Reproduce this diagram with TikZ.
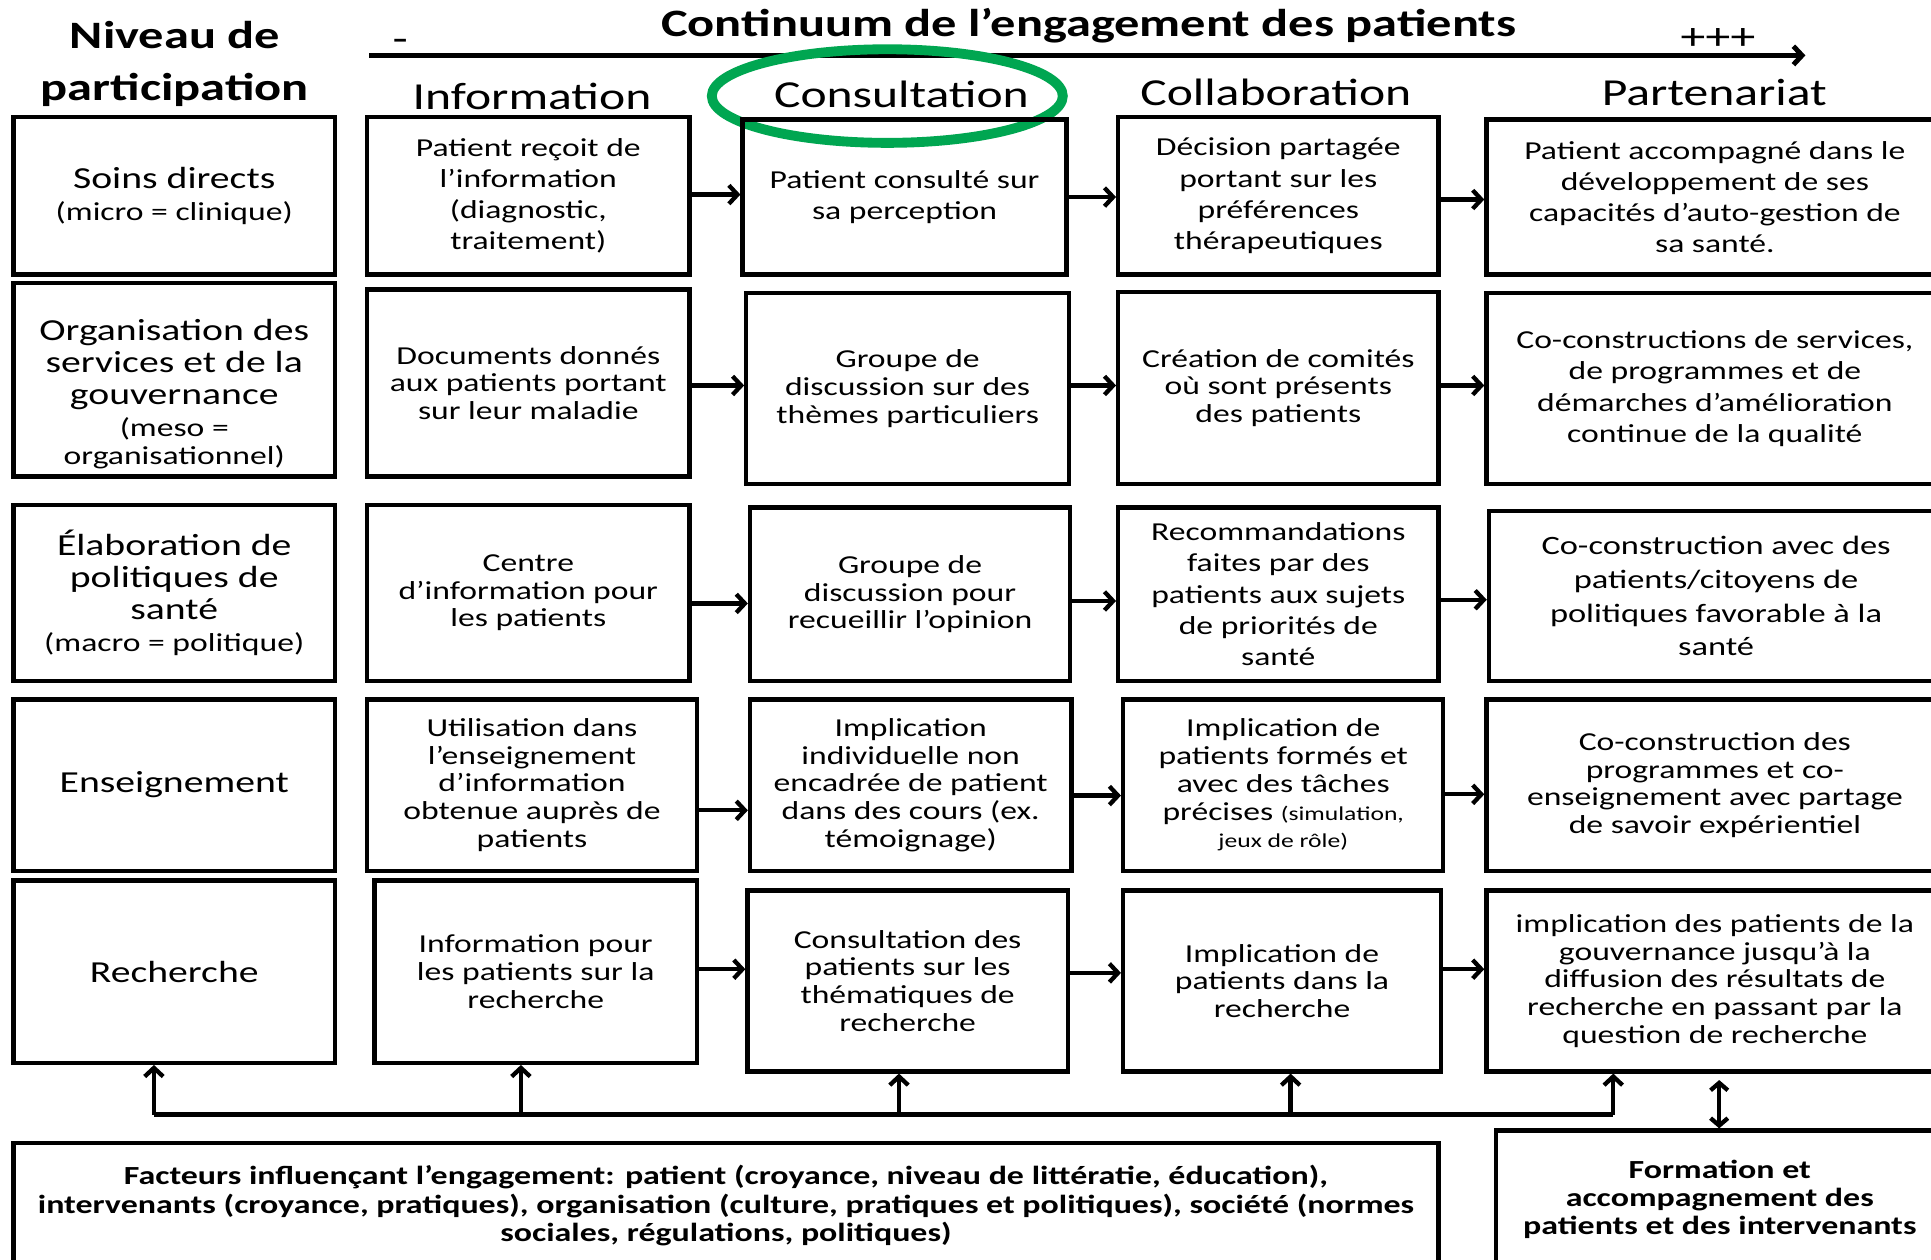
\documentclass[tikz,border=0pt]{standalone}
\usepackage{fontspec}
\setmainfont{Carlito}[FakeStretch=1.3]
\usetikzlibrary{arrows.meta}
\definecolor{hlgreen}{RGB}{0,166,81}
\tikzset{
  cell/.style={draw, line width=3.5pt, align=center, inner sep=0pt, font=\fontsize{21}{22.5}\selectfont},
  loose/.style={cell, font=\fontsize{21}{25.3}\selectfont},
  wide/.style={cell, font=\fontsize{21.5}{27.5}\selectfont},
  lvl/.style={cell, font=\fontsize{24.8}{25.8}\selectfont},
  lvltext/.style={align=center, inner sep=0pt, font=\fontsize{24.8}{25.8}\selectfont},
  boldcell/.style={cell, font=\bfseries\fontsize{21.2}{23}\selectfont},
  colhead/.style={anchor=base, font=\fontsize{31}{36}\selectfont, inner sep=0pt},
  titletxt/.style={anchor=base, font=\bfseries\fontsize{31.5}{36}\selectfont, inner sep=0pt},
  arr/.style={line width=3.5pt, -{Straight Barb[length=7pt,width=15pt]}},
  dblarr/.style={line width=3.5pt, {Straight Barb[length=6pt,width=14pt]}-{Straight Barb[length=6pt,width=14pt]}},
  bus/.style={line width=3.5pt},
}
\newcommand\cbox[7]{\node[#1, minimum width={#4-#3}, minimum height={#6-#5}] (#2) at ({(#3+#4)/2},{(#5+#6)/2}) {#7};}
\newcommand\smalltxt{\fontsize{21}{25}\selectfont}
\newcommand\tinytxt{\fontsize{16}{20}\selectfont}
\begin{document}
\begin{tikzpicture}[x=1pt,y=-1pt]
\useasboundingbox (0,0) rectangle (1568,1023);
\clip (0,0) rectangle (1568,1023);
\fill[white] (0,0) rectangle (1568,1023);

% titles
\node[titletxt] (niv1) at (142,39) {Niveau de};
\node[titletxt] (niv2) at (142,82) {participation};
\node[titletxt] (cont) at (884,30) {Continuum de l’engagement des patients};
\node[colhead] (minus) at (325,42) {-};
\node[colhead] (plus) at (1395,40.5) {+++};
\coordinate (ca) at (300,45);
\coordinate (cb) at (1466,45);
\draw[arr, line width=4pt] (ca) -- (cb);

% column headers
\node[colhead] (hInfo) at (432,89) {Information};
\node[colhead] (hCons) at (732,87) {Consultation};
\node[colhead] (hColl) at (1036,86) {Collaboration};
\node[colhead] (hPart) at (1392,86) {Partenariat};
\draw[hlgreen, line width=8pt] (720.5,78) ellipse [x radius=142.5, y radius=38];

% row 1
\cbox{lvl}{r1c1}{11}{272}{95}{223}{Soins directs\\{\smalltxt (micro = clinique)}}
\cbox{loose}{r1c2}{298}{560}{95}{223}{Patient reçoit de\\l’information\\(diagnostic,\\traitement)}
\cbox{loose}{r1c3}{603}{866}{97}{223}{Patient consulté sur\\sa perception}
\cbox{loose}{r1c4}{908}{1168}{95}{223}{Décision partagée\\portant sur les\\préférences\\thérapeutiques}
\cbox{loose}{r1c5}{1207}{1578}{97}{223}{Patient accompagné dans le\\développement de ses\\capacités d’auto-gestion de\\sa santé.}

% row 2
\cbox{cell}{r2c1}{11}{272}{230}{387}{}
\node[lvltext] (r2c1t) at (141.5,320) {Organisation des\\services et de la\\gouvernance\\{\smalltxt (meso =}\\[-3pt]{\smalltxt organisationnel)}};
\cbox{cell}{r2c2}{298}{560}{235}{387}{Documents donnés\\aux patients portant\\sur leur maladie}
\cbox{cell}{r2c3}{606}{868}{238}{393}{Groupe de\\discussion sur des\\thèmes particuliers}
\cbox{cell}{r2c4}{908}{1168}{237}{393}{Création de comités\\où sont présents\\des patients}
\cbox{loose}{r2c5}{1207}{1578}{238}{393}{Co-constructions de services,\\de programmes et de\\démarches d’amélioration\\continue de la qualité}

% row 3
\cbox{lvl}{r3c1}{11}{272}{410}{553}{Élaboration de\\politiques de\\santé\\{\smalltxt (macro = politique)}}
\cbox{cell}{r3c2}{298}{560}{410}{553}{Centre\\d’information pour\\les patients}
\cbox{cell}{r3c3}{609}{869}{412}{553}{Groupe de\\discussion pour\\recueillir l’opinion}
\cbox{loose}{r3c4}{908}{1168}{412}{553}{Recommandations\\faites par des\\patients aux sujets\\de priorités de\\santé}
\cbox{wide}{r3c5}{1209}{1578}{415}{553}{Co-construction avec des\\patients/citoyens de\\politiques favorable à la\\santé}

% row 4
\cbox{lvl}{r4c1}{11}{272}{568}{707}{Enseignement}
\cbox{cell}{r4c2}{298}{566}{568}{707}{Utilisation dans\\l’enseignement\\d’information\\obtenue auprès de\\patients}
\cbox{cell}{r4c3}{609}{870}{568}{707}{Implication\\individuelle non\\encadrée de patient\\dans des cours (ex.\\témoignage)}
\cbox{cell}{r4c4}{912}{1172}{568}{707}{Implication de\\patients formés et\\avec des tâches\\précises {\tinytxt (simulation,}\\{\tinytxt jeux de rôle)}}
\cbox{cell}{r4c5}{1207}{1578}{568}{707}{Co-construction des\\programmes et co-\\enseignement avec partage\\de savoir expérientiel}

% row 5
\cbox{lvl}{r5c1}{11}{272}{715}{863}{Recherche}
\cbox{cell}{r5c2}{304}{566}{715}{863}{Information pour\\les patients sur la\\recherche}
\cbox{cell}{r5c3}{607}{867}{723}{870}{Consultation des\\patients sur les\\thématiques de\\recherche}
\cbox{cell}{r5c4}{912}{1170}{723}{870}{Implication de\\patients dans la\\recherche}
\cbox{cell}{r5c5}{1207}{1578}{723}{870}{implication des patients de la\\gouvernance jusqu’à la\\diffusion des résultats de\\recherche en passant par la\\question de recherche}

% bottom boxes
\cbox{boldcell}{fact}{11}{1168}{928}{1030}{Facteurs influençant l’engagement: patient (croyance, niveau de littératie, éducation),\\intervenants (croyance, pratiques), organisation (culture, pratiques et politiques), société (normes\\sociales, régulations, politiques)}
\cbox{boldcell}{form}{1215}{1578}{918}{1030}{Formation et\\accompagnement des\\patients et des intervenants}

% horizontal arrows
\draw[arr] (r1c2.east |- 0,158) -- (r1c3.west |- 0,158);
\draw[arr] (r1c3.east |- 0,160) -- (r1c4.west |- 0,160);
\draw[arr] (r1c4.east |- 0,162) -- (r1c5.west |- 0,162);
\draw[arr] (r2c2.east |- 0,313) -- (r2c3.west |- 0,313);
\draw[arr] (r2c3.east |- 0,313) -- (r2c4.west |- 0,313);
\draw[arr] (r2c4.east |- 0,313) -- (r2c5.west |- 0,313);
\draw[arr] (r3c2.east |- 0,490) -- (r3c3.west |- 0,490);
\draw[arr] (r3c3.east |- 0,488) -- (r3c4.west |- 0,488);
\draw[arr] (r3c4.east |- 0,487) -- (r3c5.west |- 0,487);
\draw[arr] (r4c2.east |- 0,658) -- (r4c3.west |- 0,658);
\draw[arr] (r4c3.east |- 0,646) -- (r4c4.west |- 0,646);
\draw[arr] (r4c4.east |- 0,645) -- (r4c5.west |- 0,645);
\draw[arr] (r5c2.east |- 0,787) -- (r5c3.west |- 0,787);
\draw[arr] (r5c3.east |- 0,790) -- (r5c4.west |- 0,790);
\draw[arr] (r5c4.east |- 0,787) -- (r5c5.west |- 0,787);

% bottom bus
\coordinate (b1) at (125,905);
\coordinate (b2) at (423,905);
\coordinate (b3) at (730,905);
\coordinate (b4) at (1048,905);
\coordinate (b5) at (1310,905);
\draw[bus] (b1) -- (b5);
\draw[arr] (b1) -- (b1 |- r5c1.south);
\draw[arr] (b2) -- (b2 |- r5c2.south);
\draw[arr] (b3) -- (b3 |- r5c3.south);
\draw[arr] (b4) -- (b4 |- r5c4.south);
\draw[arr] (b5) -- (b5 |- r5c5.south);
\coordinate (d1) at (1396,877);
\draw[dblarr] (form.north -| d1) -- (d1);
\end{tikzpicture}
\end{document}
